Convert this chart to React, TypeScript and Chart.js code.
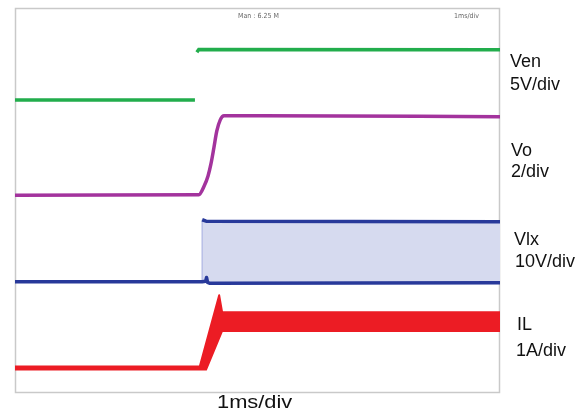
import React, { useEffect, useRef } from "react";
import { Chart, registerables } from "chart.js";

Chart.register(...registerables);

// Time axis in ms (1 ms/div, 10 divisions); vertical axis in screen divisions (8 divisions)
const venTime = [0, 3.71, 3.73, 3.75, 3.79, 10];
const venValue = [6.09, 6.09, null, 7.08, 7.14, 7.13];

const voTime = [0, 3.79, 3.9, 3.98, 4.04, 4.1, 4.16, 4.23, 4.31, 5.05, 10];
const voValue = [4.11, 4.12, 4.3, 4.51, 4.76, 5.09, 5.44, 5.67, 5.76, 5.76, 5.74];

const vlxLowTime = [0, 3.86, 3.93, 3.95, 3.97, 4.02, 10];
const vlxLowValue = [2.31, 2.31, 2.32, 2.4, 2.3, 2.28, 2.29];

const vlxHighTime = [3.86, 3.86, 3.94, 10];
const vlxHighValue = [2.31, 3.6, 3.57, 3.56];

const ilLowerTime = [0, 3.94, 4.27, 10];
const ilLowerValue = [0.49, 0.49, 1.29, 1.29];

const ilUpperTime = [0, 3.81, 4.21, 4.27, 10];
const ilUpperValue = [0.55, 0.55, 2.03, 1.68, 1.68];

const channelNames = ["Ven", "Vo", "Vlx", "IL"];
const channelScales = ["5V/div", "2/div", "10V/div", "1A/div"];
const headerTexts = ["Man : 6.25 M", "1ms/div"];
const timeScaleText = "1ms/div";

const GREEN = "#22ad4c";
const MAGENTA = "#a3339d";
const BLUE = "#28399a";
const LAVENDER = "#d6daef";
const RED = "#ec1c24";

function zip(t: number[], v: (number | null)[]) {
  return t.map((x, i) => ({ x, y: v[i] }));
}

const borderPlugin = {
  id: "scopeBorder",
  beforeDatasetsDraw(chart: any) {
    const { ctx, chartArea } = chart;
    ctx.save();
    ctx.strokeStyle = "#c9c9c9";
    ctx.lineWidth = 1.5;
    ctx.strokeRect(
      chartArea.left + 0.5,
      chartArea.top + 0.5,
      chartArea.right - chartArea.left - 1,
      chartArea.bottom - chartArea.top - 1
    );
    ctx.restore();
  },
};

export default function App() {
  const ref = useRef<HTMLCanvasElement | null>(null);

  useEffect(() => {
    if (!ref.current) return;
    const chart = new Chart(ref.current, {
      type: "line",
      data: {
        datasets: [
          {
            data: zip(venTime, venValue) as any,
            borderColor: GREEN,
            borderWidth: 3.5,
            pointRadius: 0,
            spanGaps: false,
            fill: false,
          },
          {
            data: zip(voTime, voValue) as any,
            borderColor: MAGENTA,
            borderWidth: 3.5,
            pointRadius: 0,
            cubicInterpolationMode: "monotone",
            fill: false,
          },
          {
            data: zip(vlxLowTime, vlxLowValue) as any,
            borderColor: BLUE,
            borderWidth: 3.5,
            borderJoinStyle: "round",
            pointRadius: 0,
            fill: false,
          },
          {
            data: zip(vlxHighTime, vlxHighValue) as any,
            borderColor: BLUE,
            borderWidth: 3.5,
            borderJoinStyle: "round",
            pointRadius: 0,
            backgroundColor: LAVENDER,
            fill: { target: { value: 2.31 } } as any,
            segment: {
              borderColor: (c: any) => (c.p0DataIndex === 0 ? "#b8bfe6" : BLUE),
              borderWidth: (c: any) => (c.p0DataIndex === 0 ? 1.5 : 3.5),
            },
          },
          {
            data: zip(ilLowerTime, ilLowerValue) as any,
            borderColor: RED,
            borderWidth: 2,
            pointRadius: 0,
            fill: false,
          },
          {
            data: zip(ilUpperTime, ilUpperValue) as any,
            borderColor: RED,
            borderWidth: 2,
            borderJoinStyle: "round",
            pointRadius: 0,
            backgroundColor: RED,
            fill: "-1",
          },
        ],
      },
      options: {
        animation: false,
        responsive: false,
        devicePixelRatio: 1,
        layout: { padding: { left: 15, top: 8, right: 87, bottom: 21 } },
        scales: {
          x: { type: "linear", min: 0, max: 10, display: false },
          y: { type: "linear", min: 0, max: 8, display: false },
        },
        plugins: {
          legend: { display: false },
          tooltip: { enabled: false },
        },
        elements: { line: { tension: 0 } },
      },
      plugins: [borderPlugin],
    });
    return () => chart.destroy();
  }, []);

  const labelFont = "'Liberation Sans', Arial, sans-serif";
  const nameLeft = [510, 511, 514, 517];
  const nameTop = [52, 141, 230, 315];
  const scaleLeft = [510, 511, 515, 516];
  const scaleTop = [75, 162, 252, 341];

  return (
    <div
      style={{
        position: "absolute",
        left: 0,
        top: 0,
        width: 587,
        height: 414,
        background: "#fff",
        overflow: "hidden",
      }}
    >
      <canvas ref={ref} width={587} height={414} style={{ position: "absolute", left: 0, top: 0 }} />
      {channelNames.map((n, i) => (
        <div
          key={"n" + i}
          style={{
            position: "absolute",
            left: nameLeft[i],
            top: nameTop[i],
            fontFamily: labelFont,
            fontSize: 18,
            lineHeight: "18px",
            color: "#111",
            whiteSpace: "nowrap",
          }}
        >
          {n}
        </div>
      ))}
      {channelScales.map((s, i) => (
        <div
          key={"s" + i}
          style={{
            position: "absolute",
            left: scaleLeft[i],
            top: scaleTop[i],
            fontFamily: labelFont,
            fontSize: 18,
            lineHeight: "18px",
            color: "#111",
            whiteSpace: "nowrap",
          }}
        >
          {s}
        </div>
      ))}
      <div
        style={{
          position: "absolute",
          left: 217,
          top: 392,
          fontFamily: labelFont,
          fontSize: 19,
          lineHeight: "19px",
          color: "#111",
          whiteSpace: "nowrap",
          transform: "scaleX(1.15)",
          transformOrigin: "left top",
        }}
      >
        {timeScaleText}
      </div>
      <div
        style={{
          position: "absolute",
          left: 238,
          top: 12,
          fontFamily: "'DejaVu Sans Condensed', 'DejaVu Sans', sans-serif",
          fontSize: 7,
          lineHeight: "8px",
          color: "#666",
          whiteSpace: "nowrap",
        }}
      >
        {headerTexts[0]}
      </div>
      <div
        style={{
          position: "absolute",
          left: 454,
          top: 12,
          fontFamily: "'DejaVu Sans Condensed', 'DejaVu Sans', sans-serif",
          fontSize: 7,
          lineHeight: "8px",
          color: "#666",
          whiteSpace: "nowrap",
        }}
      >
        {headerTexts[1]}
      </div>
    </div>
  );
}
